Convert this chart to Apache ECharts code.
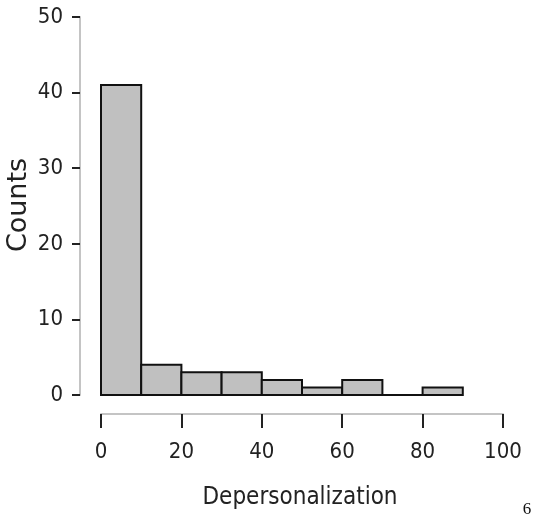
<!DOCTYPE html>
<html>
<head>
<meta charset="utf-8">
<script src="https://cdn.jsdelivr.net/npm/echarts@6/dist/echarts.min.js"></script>
<style>html,body{margin:0;padding:0;background:#fff;}#c{width:536px;height:526px;}</style>
</head>
<body>
<div id="c"></div>
<script>
var binStarts = [0, 10, 20, 30, 40, 50, 60, 70, 80];
var binEnds = [10, 20, 30, 40, 50, 60, 70, 80, 90];
var counts = [41, 4, 3, 3, 2, 1, 2, 0, 1];
var xTicks = {min: 0, max: 100, interval: 20};
var yTicks = {min: 0, max: 50, interval: 10};
var xLabel = 'Depersonalization';
var yLabel = 'Counts';
var pageNumber = '6';

var data = binStarts.map(function (s, i) { return [s, binEnds[i], counts[i]]; });
var tickFont = "'DejaVu Sans Condensed', 'Liberation Sans Narrow', 'DejaVu Sans', sans-serif";
var hidden = {show: false};

var chart = echarts.init(document.getElementById('c'), null, {renderer: 'canvas'});
chart.setOption({
  animation: false,
  backgroundColor: '#ffffff',
  grid: [
    {left: 101, right: 33, top: 17, bottom: 131},
    {left: 101, right: 33, top: 17, bottom: 112},
    {left: 80, right: 33, top: 17, bottom: 131}
  ],
  xAxis: [
    {type: 'value', gridIndex: 0, min: xTicks.min, max: xTicks.max, interval: xTicks.interval,
     axisLine: hidden, axisTick: hidden, axisLabel: hidden, splitLine: hidden},
    {type: 'value', gridIndex: 1, min: xTicks.min, max: xTicks.max, interval: xTicks.interval,
     axisLine: {show: true, onZero: false, lineStyle: {color: '#c4c4c4', width: 2}},
     axisTick: {show: true, length: 14, lineStyle: {color: '#222', width: 2}},
     axisLabel: {margin: 27, fontSize: 22, color: '#222', fontFamily: tickFont},
     splitLine: hidden},
    {type: 'value', gridIndex: 2, min: 0, max: 1, axisLine: hidden, axisTick: hidden, axisLabel: hidden, splitLine: hidden}
  ],
  yAxis: [
    {type: 'value', gridIndex: 0, min: yTicks.min, max: yTicks.max, interval: yTicks.interval,
     axisLine: hidden, axisTick: hidden, axisLabel: hidden, splitLine: hidden},
    {type: 'value', gridIndex: 1, min: 0, max: 1, axisLine: hidden, axisTick: hidden, axisLabel: hidden, splitLine: hidden},
    {type: 'value', gridIndex: 2, min: yTicks.min, max: yTicks.max, interval: yTicks.interval,
     axisLine: {show: true, onZero: false, lineStyle: {color: '#c4c4c4', width: 2}},
     axisTick: {show: true, length: 8, lineStyle: {color: '#222', width: 2}},
     axisLabel: {margin: 17, fontSize: 22, color: '#222', fontFamily: tickFont},
     splitLine: hidden}
  ],
  series: [{
    type: 'custom',
    xAxisIndex: 0,
    yAxisIndex: 0,
    data: data,
    encode: {x: [0, 1], y: 2},
    renderItem: function (params, api) {
      var p0 = api.coord([api.value(0), api.value(2)]);
      var p1 = api.coord([api.value(1), 0]);
      return {
        type: 'rect',
        shape: {x: p0[0], y: p0[1], width: p1[0] - p0[0], height: p1[1] - p0[1]},
        style: {fill: '#c0c0c0', stroke: '#111', lineWidth: 2}
      };
    }
  }],
  graphic: [
    {type: 'text', x: 300, y: 498, style: {text: xLabel, fontSize: 24, fill: '#222', fontFamily: tickFont, textAlign: 'center', textVerticalAlign: 'middle'}},
    {type: 'text', x: 19, y: 205, rotation: Math.PI / 2, style: {text: yLabel, fontSize: 27, fill: '#222', fontFamily: "'DejaVu Sans', sans-serif", textAlign: 'center', textVerticalAlign: 'middle'}},
    {type: 'text', x: 527, y: 510, style: {text: pageNumber, fontSize: 17, fill: '#111', fontFamily: "'Liberation Serif', 'DejaVu Serif', serif", textAlign: 'center', textVerticalAlign: 'middle'}}
  ]
});
</script>
</body>
</html>
